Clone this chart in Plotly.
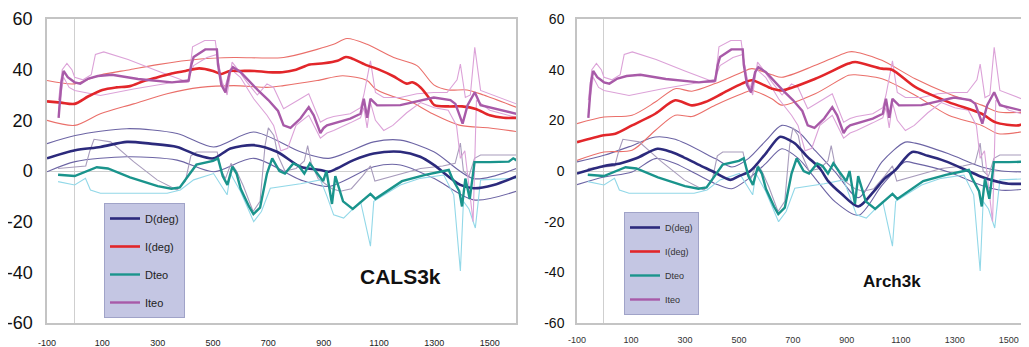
import plotly.graph_objects as go

# ---------------- data ----------------
X_TICKS = [-100, 100, 300, 500, 700, 900, 1100, 1300, 1500]
X_TICK_TEXT = ["-100", "100", "300", "500", "700", "900", "1100", "1300", "1500"]
Y_TICKS = [-60, -40, -20, 0, 20, 40, 60]
Y_TICK_TEXT = ["-60", "-40", "-20", "0", "20", "40", "60"]

# archaeomagnetic data (same in both panels)
DTEO_X = [-60, 0, 80, 120, 200, 300, 350, 380, 410, 440, 500, 518, 535, 552, 570, 585, 600, 630, 646, 670,
          695, 714, 740, 760, 790, 810, 830, 850, 870, 898, 910, 930, 942, 955, 970, 1005, 1041, 1069, 1087, 1140,
          1183, 1267, 1352, 1365, 1390, 1400, 1412, 1428, 1445, 1500, 1569, 1585, 1600]
DTEO = [-1.5, -2, 1.5, 1, -2.5, -6, -7, -6.5, -2, 2.5, 4, 5, -2, -5.5, 1.7, -1, -7, -14, -17, -14.5,
        -1, 5, 0, -1, 3, 2, -1, 3, 0, -4, 0, -13, -2, -7, -12, -15, -11.5, -9, -11, -7,
        -4, -1.5, 0.4, -3, -8, -14, -3, -11, 3.5, 3.5, 3.7, 5, 4]

DTEO_LO_X = [-60, 0, 39, 57, 93, 334, 382, 430, 502, 527, 551, 563, 599, 647, 675, 707, 755, 816, 888, 912,
             936, 972, 1033, 1069, 1081, 1177, 1249, 1334, 1370, 1394, 1405, 1425, 1448, 1467, 1600]
DTEO_LO = [-4.2, -5.5, -2.9, -7.5, -8.8, -8.8, -7.5, -3.5, -1, -5.5, -9.4, -1, -8, -20, -16, -6.8, -6.1, -5, -3.5, -10,
           -17.3, -18.6, -12, -29.7, -12, -5.5, -2.9, -1.6, -9.4, -39.5, -12, -15, -22.5, -3.5, -2.9]

DTEO_HI_X = [-60, 0, 40, 55, 70, 130, 213, 298, 370, 400, 420, 440, 515, 530, 545, 565, 585, 610, 645, 670,
             688, 700, 720, 735, 760, 800, 830, 842, 855, 880, 930, 960, 1000, 1040, 1069, 1085, 1150, 1250, 1330, 1375,
             1394, 1405, 1425, 1445, 1467, 1600]
DTEO_HI = [1, 1.5, 2, 8, 12.5, 11.5, 3.7, -3.5, -7.5, -4, 6, 7.5, 7.5, 0, -3, 3, 0, -6, -16, -12,
           10, 17, 14, 6, 0, 1, 4, 10, 3, -3, -7, -8, -7, -2, 2, -4, -2, 1, 2, 3,
           11, 0, -2, 5, 6.3, 6.3]

ITEO_X = [-58, -48, -40, -25, 0, 20, 50, 84, 135, 229, 352, 412, 422, 430, 472, 514, 518, 530, 545, 560,
          572, 600, 663, 700, 735, 755, 780, 816, 846, 864, 888, 900, 912, 936, 996, 1033, 1045, 1057, 1069, 1093,
          1177, 1298, 1358, 1376, 1402, 1420, 1446, 1467, 1596]
ITEO = [21, 35, 39.5, 37, 35, 34.5, 36.5, 37.5, 38, 36.3, 35, 35.7, 42, 45, 48, 48, 42, 34, 31, 39,
        41, 39, 31.8, 28, 23.7, 18, 17, 20.7, 25.2, 22, 15, 17, 18, 18.7, 20.7, 22.6, 28.5, 21, 28.5, 25.9,
        26, 29, 28, 26.5, 18.7, 26, 31.1, 26, 22.6]

ITEO_HI_X = [-58, -45, -28, -10, 0, 30, 60, 75, 105, 193, 300, 410, 422, 426, 470, 508, 515, 530, 551, 569,
             590, 623, 660, 695, 719, 755, 816, 846, 888, 912, 936, 996, 1033, 1045, 1069, 1087, 1117, 1177, 1237, 1298,
             1346, 1382, 1394, 1412, 1430, 1446, 1467, 1596]
ITEO_HI = [28, 40, 42.5, 40, 37, 36, 38, 46, 47, 44, 39.5, 35, 45, 49, 51.5, 51.5, 46, 36, 30, 43,
           40, 35, 30, 34.4, 33, 24.6, 28.5, 30.5, 19.3, 20.7, 21.5, 22.6, 25, 30, 43.5, 31, 29, 29, 30.5, 31,
           31, 36, 42.2, 29, 30, 48.8, 31.8, 26.5]

ITEO_LO_X = [-58, -40, -20, 0, 93, 213, 358, 406, 430, 478, 514, 527, 539, 563, 599, 647, 695, 719, 745, 770,
             800, 846, 888, 912, 936, 996, 1033, 1045, 1057, 1069, 1087, 1117, 1150, 1200, 1250, 1300, 1350, 1380, 1394, 1410,
             1440, 1452, 1500, 1600]
ITEO_LO = [24, 37, 33, 31.8, 29.8, 32.4, 35, 35, 41.6, 44.8, 46, 38, 31.8, 40.3, 37, 28.5, 22, 18, 8, 9,
           18, 22, 13, 15, 16, 19, 21, 25, 17, 27, 20, 16, 18, 23, 27, 25, 24, 18, 5, 8,
           -20, 28, 24, 21]

# CALS3k model
CALS_I_X = [-100, -50, 0, 50, 100, 150, 200, 250, 300, 350, 400, 450, 500, 530, 560, 600, 650, 700, 750, 800,
            850, 900, 950, 980, 1000, 1050, 1100, 1150, 1200, 1220, 1250, 1280, 1300, 1350, 1400, 1450, 1500, 1550, 1600]
CALS_I = [27.5, 27, 26.5, 29.5, 32, 33, 33.5, 35.5, 37, 38.5, 39.5, 40.5, 39.5, 38.3, 39.5, 39.5, 39.5, 39, 39, 40,
          42, 42.5, 43.5, 45, 44.5, 42, 40, 37.5, 34.5, 35, 33, 29, 26, 25.5, 25.5, 24.5, 22, 21, 21]
CALS_I_HI_X = [-100, 0, 93, 200, 300, 454, 575, 755, 876, 936, 984, 1057, 1153, 1237, 1298, 1350, 1418, 1478, 1600]
CALS_I_HI = [35.7, 34.4, 37.9, 40, 42, 44.2, 44.8, 44.8, 48, 50, 52.3, 50, 44.8, 41.6, 34, 32, 32, 30, 25]
CALS_I_LO_X = [-100, 0, 93, 213, 334, 454, 575, 695, 755, 876, 969, 1057, 1087, 1178, 1207, 1294, 1394, 1500, 1600]
CALS_I_LO = [20, 18, 22.6, 26.5, 30.5, 33, 33.7, 33, 33.7, 35.7, 37.6, 35.7, 32.4, 28.5, 27.8, 22.6, 18, 17, 15.5]

CALS_D_X = [-100, 2, 93, 189, 273, 370, 442, 502, 563, 647, 731, 816, 888, 918, 948, 1008, 1081, 1177, 1249, 1298,
            1394, 1442, 1514, 1596]
CALS_D = [5, 8.2, 9.5, 11.5, 10.8, 9.5, 6.3, 5, 8.9, 10.2, 7.6, 1.7, 0.4, -0.3, 1, 4.3, 6.9, 7.6, 5.6, 2.4,
          -5.5, -6.8, -5.5, -2.2]
CALS_D_B_X = [-100, 2, 189, 370, 502, 647, 816, 918, 1081, 1177, 1298, 1442, 1596]
CALS_D_HI = [10.8, 14, 16.7, 14.8, 9.5, 15.4, 7.6, 5, 11.5, 12.2, 7.6, -3, 1]
CALS_D_LO = [-0.3, 3.7, 5.6, 4.3, -0.3, 5, -3.5, -6.1, 1.7, 2.4, -2.9, -11.4, -8]

# Arch3k model
ARCH_D_X = [-100, 0, 60, 120, 198, 250, 294, 350, 400, 468, 500, 542, 600, 653, 690, 709, 750, 800, 831, 880,
            942, 1000, 1040, 1079, 1142, 1200, 1264, 1350, 1401, 1450, 1500, 1575]
ARCH_D = [-1, 2, 3, 5, 8.8, 7.5, 5.5, 2.5, 0, -3.5, -2, 0, 7, 13.5, 12, 10.8, 6, 1, -4, -9,
          -14, -8, -3, 0.3, 7.5, 6, 3.9, 0, -2.4, -4, -5, -5]
ARCH_D_B_X = [-100, 0, 104, 190, 264, 412, 474, 536, 600, 659, 721, 783, 857, 943, 1030, 1116, 1153, 1277, 1400, 1474, 1575]
ARCH_D_HI = [3.6, 6.2, 10, 13.4, 12.5, 4.9, 1.6, 5, 12, 18, 15.4, 8, -0.4, -10.5, 3.6, 11.4, 11, 6.8, 1.6, 0, -0.4]
ARCH_D_LO = [-5.4, -2.4, -0.4, 4.9, 3, -5, -7, -3, 3, 8.8, 4.9, -3, -12.2, -17.5, -5.7, 3.6, 3, -0.4, -5.7, -7.6, -7]

ARCH_I_X = [-100, 0, 42, 104, 190, 264, 326, 375, 437, 511, 548, 622, 659, 783, 906, 931, 1030, 1067, 1153, 1277,
            1400, 1449, 1536, 1575]
ARCH_I = [11.4, 14.1, 14.7, 18, 22.6, 27.9, 25.9, 27.2, 30.5, 34.5, 35.8, 32.5, 31.8, 36.4, 42.4, 43, 40.4, 40, 33.2, 27.2,
          22.6, 19.3, 18, 20]
ARCH_I_B_X = [-100, 0, 104, 190, 264, 326, 412, 511, 548, 622, 659, 783, 906, 931, 1030, 1153, 1277, 1400, 1462, 1575]
ARCH_I_HI = [18.7, 21.3, 22, 27.2, 32.5, 31.5, 34.5, 39, 40.4, 38, 37, 41.7, 47, 47, 43.7, 36.4, 30.5, 26, 23.3, 23.3]
ARCH_I_LO = [4.2, 7.5, 8.2, 16, 22, 21.5, 26, 30.5, 31.8, 28.5, 26, 30.5, 37.8, 38, 36.4, 29.9, 22, 18, 14.7, 16]

# ---------------- styles ----------------
C_D, C_D_B = "#2c2a7c", "#6c64a4"
C_I, C_I_B = "#e2262a", "#ea6f6a"
C_DT, C_DT_LO, C_DT_HI = "#1a948c", "#92d8e8", "#a89cbc"
C_IT, C_IT_B = "#a85aa8", "#dca2d8"
SANS = "Liberation Sans, Arial, sans-serif"

fig = go.Figure()


def add(x, y, color, width, xa, ya, name=None, legend=None, shape="spline"):
    fig.add_trace(go.Scatter(
        x=x, y=y, mode="lines", xaxis=xa, yaxis=ya,
        line=dict(color=color, width=width, shape=shape, smoothing=0.8 if shape == "spline" else None),
        name=name, showlegend=name is not None, legend=legend,
        legendgroup=(name + legend) if name else None, hoverinfo="skip"))


panels = [
    ("x", "y", "legend", (CALS_D_X, CALS_D, CALS_D_B_X, CALS_D_HI, CALS_D_LO),
     (CALS_I_X, CALS_I, CALS_I_HI_X, CALS_I_HI, CALS_I_LO_X, CALS_I_LO)),
    ("x2", "y2", "legend2", (ARCH_D_X, ARCH_D, ARCH_D_B_X, ARCH_D_HI, ARCH_D_LO),
     (ARCH_I_X, ARCH_I, ARCH_I_B_X, ARCH_I_HI, ARCH_I_B_X, ARCH_I_LO)),
]

for xa, ya, lg, D, I in panels:
    # thin bounds first
    add(D[2], D[3], C_D_B, 1.1, xa, ya)
    add(D[2], D[4], C_D_B, 1.1, xa, ya)
    add(I[2], I[3], C_I_B, 1.1, xa, ya)
    add(I[4], I[5], C_I_B, 1.1, xa, ya)
    add(DTEO_HI_X, DTEO_HI, C_DT_HI, 1.1, xa, ya, shape="linear")
    add(DTEO_LO_X, DTEO_LO, C_DT_LO, 1.1, xa, ya, shape="linear")
    add(ITEO_HI_X, ITEO_HI, C_IT_B, 1.1, xa, ya, shape="linear")
    add(ITEO_LO_X, ITEO_LO, C_IT_B, 1.1, xa, ya, shape="linear")
    # main lines
    add(D[0], D[1], C_D, 2.6, xa, ya, "D(deg)", lg)
    add(I[0], I[1], C_I, 2.6, xa, ya, "I(deg)", lg)
    add(DTEO_X, DTEO, C_DT, 2.4, xa, ya, "Dteo", lg, shape="linear")
    add(ITEO_X, ITEO, C_IT, 2.4, xa, ya, "Iteo", lg, shape="linear")

# the page body has an 8 px margin: the figure starts at (8, 8) of the window
OFF = 8
W, H = 1029 - OFF, 347 - OFF


def fx(px):
    return (px - OFF) / W


def fy(py):
    return 1 - (py - OFF) / H


ydom = [fy(323), fy(19)]
axis_common = dict(showgrid=False, showline=True, linecolor="#c4c4c4", linewidth=1.5, automargin=False,
                   zeroline=True, zerolinecolor="#cfcfcf", zerolinewidth=1)

fig.update_layout(
    width=W, height=H, margin=dict(l=0, r=0, t=0, b=0, autoexpand=False),
    paper_bgcolor="white", plot_bgcolor="white",
    xaxis=dict(domain=[fx(47), fx(516)], range=[-100, 1595], tickvals=X_TICKS, ticktext=X_TICK_TEXT, mirror=True,
               ticks="outside", ticklen=10, tickcolor="rgba(0,0,0,0)",
               tickfont=dict(family=SANS, size=9, color="#222"), **axis_common),
    yaxis=dict(domain=ydom, range=[-60, 60], tickvals=Y_TICKS, ticktext=Y_TICK_TEXT, mirror=True,
               ticks="outside", ticklen=9, tickcolor="rgba(0,0,0,0)",
               tickfont=dict(family=SANS, size=18, color="#111"), **axis_common),
    xaxis2=dict(domain=[fx(577), 1.0], range=[-100, 1575], tickvals=X_TICKS, ticktext=X_TICK_TEXT, mirror=True,
                anchor="y2", ticks="outside", ticklen=7, tickcolor="rgba(0,0,0,0)",
                tickfont=dict(family=SANS, size=9, color="#333"), **axis_common),
    yaxis2=dict(domain=ydom, range=[-60, 60], tickvals=Y_TICKS, ticktext=Y_TICK_TEXT, mirror=False, anchor="x2",
                ticks="outside", ticklen=8, tickcolor="rgba(0,0,0,0)",
                tickfont=dict(family=SANS, size=14, color="#111"), **axis_common),
    legend=dict(x=fx(104), y=fy(203), xanchor="left", yanchor="top",
                bgcolor="#c4c6e3", bordercolor="#a0a3c8", borderwidth=1,
                font=dict(family=SANS, size=11, color="#222"), tracegroupgap=9, itemwidth=30),
    legend2=dict(x=fx(624), y=fy(212), xanchor="left", yanchor="top",
                 bgcolor="#c4c6e3", bordercolor="#a0a3c8", borderwidth=1,
                 font=dict(family=SANS, size=9, color="#333"), tracegroupgap=5, itemwidth=30),
    annotations=[
        dict(text="<b>CALS3k</b>", x=fx(400), y=fy(290), xref="paper", yref="paper",
             showarrow=False, font=dict(family=SANS, size=21, color="#111")),
        dict(text="<b>Arch3k</b>", x=fx(923), y=fy(293), xref="paper", yref="paper",
             showarrow=False, font=dict(family=SANS, size=17, color="#111")),
    ],
)

fig.write_html("out.html")
